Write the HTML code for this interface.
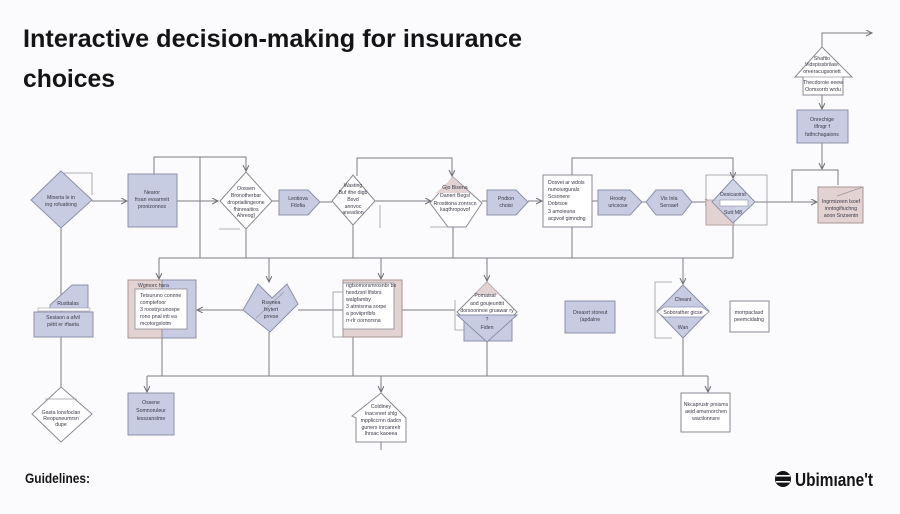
<!DOCTYPE html>
<html><head><meta charset="utf-8"><style>
html,body{margin:0;padding:0;background:#fbfbfd;}
svg{display:block;}
text{font-family:"Liberation Sans",sans-serif;}
.t{font-size:5.2px;fill:#3a3a48;text-anchor:middle;}
.l{font-size:5.2px;fill:#3a3a48;}
.ln{stroke:#7c7c84;stroke-width:1;fill:none;}
.lt{stroke:#9a9aa2;stroke-width:0.8;fill:none;}
.lv{fill:#c8cce3;stroke:#8c90a8;stroke-width:1;}
.pk{fill:#e3d2d2;stroke:#a89494;stroke-width:1;}
.wh{fill:#ffffff;stroke:#8a8a92;stroke-width:1;}
</style></head><body>
<svg width="900" height="514" viewBox="0 0 900 514" xmlns="http://www.w3.org/2000/svg">
<defs>
<marker id="a" markerUnits="userSpaceOnUse" markerWidth="8" markerHeight="8" refX="6" refY="3" orient="auto">
<path d="M0,0 L6,3 L0,6" fill="none" stroke="#6c6c74" stroke-width="1"/>
</marker>
</defs>
<rect width="900" height="514" fill="#fbfbfd"/>

<!-- title -->
<text x="23" y="47" font-size="25" font-weight="bold" fill="#141414" textLength="499" lengthAdjust="spacingAndGlyphs">Interactive decision-making for insurance</text>
<text x="23" y="87" font-size="25" font-weight="bold" fill="#141414" textLength="92" lengthAdjust="spacingAndGlyphs">choices</text>

<!-- connectors -->
<path class="ln" d="M92 201 H127" marker-end="url(#a)"/>
<path class="lt" d="M60 173 H92 V195"/>
<path class="ln" d="M61 228 V387"/>
<path class="ln" d="M177 201 H218" marker-end="url(#a)"/>
<path class="ln" d="M154 174 V157 H246 V171" marker-end="url(#a)"/>
<path class="ln" d="M200 157 V258"/>
<path class="ln" d="M246 229 V258"/>
<path class="ln" d="M272 201 H279"/>
<path class="ln" d="M320 202 H332"/>
<path class="ln" d="M357 176 V158 H452 V176" marker-end="url(#a)"/>
<path class="ln" d="M375 201 H431" marker-end="url(#a)"/>
<path class="lt" d="M380 205 V228"/>
<path class="ln" d="M353 225 V258"/>
<path class="ln" d="M453 218 V258"/>
<path class="ln" d="M482 201 H487"/>
<path class="ln" d="M528 201 H542" marker-end="url(#a)"/>
<path class="ln" d="M572 227 V258"/>
<path class="ln" d="M572 175 V158 H733 V178" marker-end="url(#a)"/>
<path class="ln" d="M592 201 H598"/>
<path class="ln" d="M642 202 H646"/>
<path class="ln" d="M692 202 H711" marker-end="url(#a)"/>
<path class="ln" d="M733 223 V258"/>
<path class="ln" d="M755 202 H817" marker-end="url(#a)"/>
<path class="ln" d="M792 202 V170 H838 V185"/>
<path class="ln" d="M822 143 V169" marker-end="url(#a)"/>
<path class="ln" d="M822 47 V33 H872" marker-end="url(#a)"/>
<path class="ln" d="M822 95 V109" marker-end="url(#a)"/>

<path class="ln" d="M159 258 H733"/>
<path class="ln" d="M159 258 V279" marker-end="url(#a)"/>
<path class="ln" d="M269 258 V282" marker-end="url(#a)"/>
<path class="ln" d="M381 258 V279" marker-end="url(#a)"/>
<path class="ln" d="M487 258 V281" marker-end="url(#a)"/>
<path class="ln" d="M683 258 V284" marker-end="url(#a)"/>

<path class="ln" d="M243 310 H197" marker-end="url(#a)"/>
<path class="ln" d="M298 310 H343"/>
<path class="ln" d="M402 310 H455"/>

<path class="ln" d="M162 338 V376"/>
<path class="ln" d="M269 332 V376"/>
<path class="ln" d="M353 337 V376"/>
<path class="ln" d="M487 342 V376"/>
<path class="ln" d="M683 338 V376"/>
<path class="ln" d="M147 376 H708"/>
<path class="ln" d="M147 376 V392" marker-end="url(#a)"/>
<path class="ln" d="M381 376 V392" marker-end="url(#a)"/>
<path class="ln" d="M708 376 V392" marker-end="url(#a)"/>
<path class="ln" d="M381 442 V450"/>

<!-- row 1 nodes -->
<polygon class="lv" points="61,171 92,200 61,228 31,200"/>
<text class="t" x="61" y="199">Mineria le in</text>
<text class="t" x="61" y="206">ing rofuationg</text>

<rect class="lv" x="128" y="174" width="49" height="53"/>
<text class="t" x="152" y="194">Nearor</text>
<text class="t" x="152" y="201">frsan evsarnnit</text>
<text class="t" x="152" y="208">pronizonnos</text>

<polygon class="wh" points="246,172 272,201 246,229 220,201"/>
<text class="t" x="246" y="190">Oossen</text>
<text class="t" x="246" y="197">Bronotherbar</text>
<text class="t" x="246" y="204">dropriaitingeone</text>
<text class="t" x="246" y="211">fhinreaitios</text>
<text class="t" x="246" y="217">Ahreog)</text>
<path class="lt" d="M219 229 H240"/>

<polygon class="lv" points="279,190 308,190 320,202 308,215 279,215"/>
<text class="t" x="298" y="200">Leotiova</text>
<text class="t" x="298" y="207">Ftlofia</text>

<polygon class="wh" points="353,175 375,201 353,225 332,201"/>
<text class="t" x="353" y="187">Wasting</text>
<text class="t" x="353" y="194">Buf ithe digb</text>
<text class="t" x="353" y="201">Bsvd</text>
<text class="t" x="353" y="208">annvoc</text>
<text class="t" x="353" y="214">aneadion</text>

<path class="lt" d="M430 227 H460 V218"/>
<polygon class="wh" points="453,177 482,203 466,227 448,227 430,203"/>
<polygon class="pk" points="453,177 470,193 436,193" style="stroke:none"/>
<text class="t" x="455" y="189">Gjo Bisena</text>
<text class="t" x="455" y="197">Danert Begsl</text>
<text class="t" x="455" y="205">Rrostiiona zonrscn</text>
<text class="t" x="455" y="211">kaqthropovof</text>

<polygon class="lv" points="487,190 516,190 528,202 516,215 487,215"/>
<text class="t" x="506" y="200">Pndion</text>
<text class="t" x="506" y="207">choisi</text>

<rect class="wh" x="543" y="175" width="49" height="52"/>
<text class="l" x="548" y="184">Dosvei ar wdois</text>
<text class="l" x="548" y="191">nunoiurgurals</text>
<text class="l" x="548" y="198">Scsonere</text>
<text class="l" x="548" y="205">Dobrsoe</text>
<text class="l" x="548" y="213">3 amoieuna</text>
<text class="l" x="548" y="220">acpvoil gimndng</text>

<polygon class="lv" points="598,190 630,190 642,202 630,215 598,215"/>
<text class="t" x="618" y="200">Hrooity</text>
<text class="t" x="618" y="207">uricsose</text>

<polygon class="lv" points="646,202 656,190 682,190 692,202 682,215 656,215"/>
<text class="t" x="669" y="200">Vis Inla</text>
<text class="t" x="669" y="207">Seroaef</text>

<rect class="lt" x="706" y="175" width="61" height="50"/>
<rect x="706" y="200" width="28" height="25" fill="#e3d2d2" stroke="#b09c9c" stroke-width="0.8"/>
<polygon points="733,179 755,202 733,223 712,202" fill="#c8cce3" fill-opacity="0.85" stroke="#8c90a8"/>
<rect x="720" y="200" width="28" height="6" fill="#ffffff" stroke="#8c90a8" stroke-width="0.6"/>
<text class="t" x="733" y="196">Desicaoirst</text>
<text class="t" x="733" y="214">Sutt M8</text>

<rect class="pk" x="818" y="187" width="45" height="36"/>
<path class="lt" d="M837 196 L863 187"/>
<text class="t" x="841" y="203">Ingrmizeen lsoef</text>
<text class="t" x="841" y="210">inntogifiuchng</text>
<text class="t" x="841" y="217">aoon Snzsentn</text>

<polygon class="wh" points="822,47 852,77 843,77 843,95 803,95 803,77 795,77"/>
<path class="lt" d="M797 77 H850"/>
<text class="t" x="822" y="60">Shaftio</text>
<text class="t" x="822" y="66">Vidspissbrilaw.</text>
<text class="t" x="822" y="73">oreeracugsonett</text>
<text class="t" x="823" y="84">Thecdoroie eeew</text>
<text class="t" x="823" y="91">Oomsorrb wrdu</text>

<rect class="lv" x="797" y="110" width="51" height="33"/>
<text class="t" x="822" y="121">Onrechige</text>
<text class="t" x="822" y="128">tlfrsgr f</text>
<text class="t" x="822" y="136">fatfnchagaions</text>

<!-- row 2 nodes -->
<polygon class="lv" points="72,285 88,285 88,310 50,310 50,305"/>
<rect x="38" y="308" width="52" height="3" fill="#ffffff" stroke="#9a9aa8" stroke-width="0.6"/>
<rect class="lv" x="34" y="312" width="59" height="25"/>
<text class="t" x="68" y="305">Rusttalas</text>
<text class="t" x="63" y="319">Sesiaon a afvil</text>
<text class="t" x="63" y="326">pétit er rfiaeta</text>

<rect x="128" y="280" width="34" height="58" fill="#e3d2d2" stroke="#a89494"/>
<rect x="162" y="280" width="34" height="58" fill="#c8cce3" stroke="#8c90a8"/>
<rect x="135" y="289" width="52" height="40" fill="#ffffff" stroke="#8a8a92" stroke-width="0.8"/>
<text class="l" x="138" y="287">Wgmorc hsra</text>
<text class="l" x="140" y="297">Tetsuruno connne</text>
<text class="l" x="140" y="304">comptefoor</text>
<text class="l" x="140" y="311">3 roostrycunospe</text>
<text class="l" x="140" y="318">rono pnal inti ea</text>
<text class="l" x="140" y="325">mcotorgxlotm</text>

<polygon class="lv" points="243,310 258,284 272,298 287,284 298,304 270,332"/>
<path class="lt" d="M256 318 L284 292"/>
<text class="t" x="271" y="304">Rswnea</text>
<text class="t" x="271" y="311">fsytert</text>
<text class="t" x="271" y="318">prrese</text>

<rect class="lt" x="333" y="292" width="25" height="45"/>
<rect class="pk" x="343" y="280" width="59" height="57"/>
<rect x="343" y="283" width="51" height="46" fill="#ffffff" stroke="#8a8a92" stroke-width="0.8"/>
<text class="l" x="346" y="287">rigtsomorsmrosnbr bs</text>
<text class="l" x="346" y="294">hesdzsnl lfisbrs</text>
<text class="l" x="346" y="301">walgfamby</text>
<text class="l" x="346" y="308">3 atrnisnna sorpe</text>
<text class="l" x="346" y="315">a poviiprrlbfs</text>
<text class="l" x="346" y="322">rr-rlr oornorsna</text>

<rect class="lv" x="464" y="316" width="48" height="25"/>
<polygon points="487,282 517,312 487,342 457,312" fill="#ffffff" stroke="#8a8a92"/>
<polygon points="487,282 500,295 474,295" fill="#e3d2d2"/>
<polygon points="457,315 517,315 487,342" fill="#c8cce3" stroke="#8c90a8"/>
<path class="lt" d="M455 300 V330 H464"/>
<text class="t" x="485" y="297">Pomaisal</text>
<text class="t" x="487" y="305">aod goujeunttit</text>
<text class="t" x="487" y="312">dorsoonnoe gruawar ry</text>
<text class="t" x="487" y="321">?</text>
<text class="t" x="487" y="329">Fiden</text>

<rect class="lv" x="565" y="301" width="50" height="32"/>
<text class="t" x="590" y="314">Oreasrt storeut</text>
<text class="t" x="590" y="321">(apdalne</text>

<path class="lt" d="M672 282 H655 V338 H672"/>
<polygon class="lv" points="683,285 709,311 683,338 657,311"/>
<polygon points="664,307 702,307 709,312 702,317 664,317 657,312" fill="#ffffff" stroke="#8c90a8" stroke-width="0.7"/>
<text class="t" x="683" y="301">Cheant</text>
<text class="t" x="683" y="314">Soborather gicse</text>
<text class="t" x="683" y="329">Wan</text>

<rect class="wh" x="730" y="301" width="39" height="31"/>
<text class="t" x="749" y="314">morrpaclasd</text>
<text class="t" x="749" y="321">peemcidatng</text>

<!-- row 3 -->
<polygon class="wh" points="61,387 92,414 61,442 32,414"/>
<path class="lt" d="M45 399 H77"/>
<text class="t" x="61" y="414">Gasta lonsfoclan</text>
<text class="t" x="61" y="420">Reopuneumrsn</text>
<text class="t" x="61" y="426">dupe</text>

<rect class="lv" x="128" y="393" width="46" height="42"/>
<text class="t" x="151" y="404">Ossene</text>
<text class="t" x="151" y="412">Somnoruleur</text>
<text class="t" x="151" y="420">lesszanslme</text>

<polygon class="wh" points="381,393 406,418 406,442 356,442 356,418 352,416"/>
<text class="t" x="381" y="408">Coldiney</text>
<text class="t" x="381" y="415">Inacvreet shlg</text>
<text class="t" x="381" y="422">mppliccrnn dadcn</text>
<text class="t" x="381" y="429">guners inrcanrelr</text>
<text class="t" x="381" y="435">Ihrsac kaoeea</text>

<rect class="wh" x="681" y="393" width="49" height="39"/>
<text class="t" x="706" y="406">Nkcaprustr prsisms</text>
<text class="t" x="706" y="413">aeid amurnorchen</text>
<text class="t" x="706" y="420">wactlonnsre</text>

<!-- footer -->
<text x="25" y="483" font-size="14" font-weight="bold" fill="#141414" textLength="65" lengthAdjust="spacingAndGlyphs">Guidelines:</text>
<circle cx="783" cy="479" r="8" fill="#141414"/>
<rect x="776" y="475" width="14" height="1.6" fill="#fbfbfd"/>
<rect x="776" y="481" width="14" height="1.6" fill="#fbfbfd"/>
<text x="795" y="486" font-size="18" font-weight="bold" fill="#141414" textLength="78" lengthAdjust="spacingAndGlyphs">Ubimıane't</text>
</svg>
</body></html>
